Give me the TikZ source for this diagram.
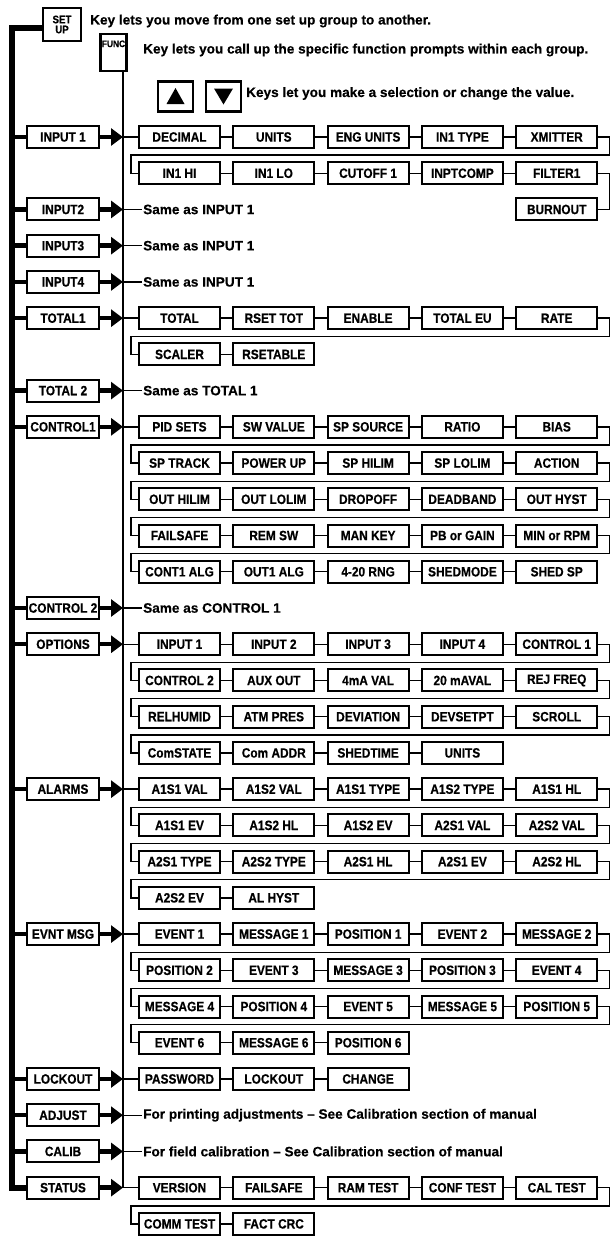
\documentclass[tikz,border=0pt]{standalone}
\usepackage{fontspec}
\setmainfont{Liberation Sans}
\newfontfamily\condfam{Liberation Sans}[FakeStretch=0.88,FakeBold=0.5,Ligatures=TeX]
\newfontfamily\heavyfam{Liberation Sans}[FakeBold=0.4,Ligatures=TeX]
\usetikzlibrary{calc,arrows.meta}
\newcommand{\boxfont}{\condfam\fontsize{13.5}{15}\selectfont\bfseries}
\newcommand{\plainfont}{\heavyfam\fontsize{13.6}{15}\selectfont\bfseries}
\newcommand{\rowy}[1]{\pgfmathsetmacro\ry{137+36.23*#1}}
% row of item boxes: #1 row index, #2 labels
\newcommand{\itemrow}[2]{%
  \rowy{#1}%
  \foreach \lbl [count=\i] in {#2} {
    \node[ibox] (r#1-\i) at ({179.5+94.3*(\i-1)},\ry) {\lbl};
  }
  \foreach \lbl [count=\i] in {#2} {
    \ifnum\i>1 \pgfmathtruncatemacro\j{\i-1}\draw[conn] (r#1-\j.east) -- (r#1-\i.west);\fi
  }
}
% wrap from last box of row #1 to first box of row #2
\newcommand{\wrapto}[2]{%
  \draw[conn] (r#1-5.east) -- ++(11,0) |- ($(r#2-1.west)+(-7,-18.1)$) |- (r#2-1.west);
}
% group box: #1 row index, #2 name, #3 label
\newcommand{\grp}[3]{%
  \rowy{#1}%
  \node[lbox] (#2) at (63,\ry) {#3};
  \coordinate (t#2) at (12,\ry);
  \coordinate (b#2) at (123,\ry);
  \draw[stub] (t#2) -- (#2.west);
  \draw[arr] (#2.east) -- (b#2);
}
% note text: #1 group name, #2 row index, #3 text
\newcommand{\same}[3]{%
  \rowy{#2}%
  \node[note] (s#1) at (142,\ry) {#3};
  \draw[conn] (b#1) -- (s#1.west);
}
\begin{document}
\begin{tikzpicture}[x=1pt,y=-1pt,
  lbox/.style={draw,line width=2pt,minimum width=72pt,minimum height=22pt,inner sep=0pt,font=\boxfont},
  ibox/.style={draw,line width=2pt,minimum width=81pt,minimum height=22pt,inner sep=0pt,font=\boxfont},
  conn/.style={line width=1.4pt},
  stub/.style={line width=4.5pt},
  bus/.style={line width=6pt},
  vline/.style={line width=1.6pt},
  arr/.style={line width=4.5pt,-{Triangle[length=12pt,width=17pt]}},
  note/.style={anchor=west,inner sep=1pt,font=\plainfont},
  keybox/.style={draw,line width=2.2pt,inner sep=0pt}
]
\fill[white] (0,0) rectangle (611,1237);
\useasboundingbox (0,0) rectangle (611,1237);

% --- key legend ---
\node[keybox,minimum width=38pt,minimum height=33pt,align=center,
      font=\condfam\fontsize{11}{10}\selectfont\bfseries] (setup) at (62,24.5) {SET\\UP};
\node[note] (k1) at (89,21) {Key lets you move from one set up group to another.};
\node[keybox,anchor=north,minimum width=26pt,inner xsep=1pt,inner ysep=3pt,text height=10pt,text depth=21pt,
      font=\condfam\fontsize{9.5}{10}\selectfont\bfseries] (func) at (113.5,33) {FUNC};
\node[note] (k2) at (142,50) {Key lets you call up the specific function prompts within each group.};
\node[keybox,minimum width=35pt,minimum height=30pt] (up) at (175.5,96.5) {};
\node[keybox,minimum width=35pt,minimum height=30pt] (down) at (223.5,96.5) {};
\fill ($(up)+(-9,7.5)$) -- ($(up)+(9,7.5)$) -- ($(up)+(0,-8.5)$) -- cycle;
\fill ($(down)+(-9.5,-8)$) -- ($(down)+(9.5,-8)$) -- ($(down)+(0,8)$) -- cycle;
\node[note] (k3) at (245,93.5) {Keys let you make a selection or change the value.};

% --- INPUT 1 ---
\grp{0}{in1}{INPUT 1}
\itemrow{0}{DECIMAL,UNITS,ENG UNITS,IN1 TYPE,XMITTER}
\itemrow{1}{IN1 HI,IN1 LO,CUTOFF 1,INPTCOMP,FILTER1}
\draw[conn] (bin1) -- (r0-1.west);
\wrapto{0}{1}
\rowy{2}
\node[ibox] (burn) at (556.7,\ry) {BURNOUT};
\draw[conn] (r1-5.east) -- ++(11,0) |- (burn.east);

\grp{2}{in2}{INPUT2}
\same{in2}{2}{Same as INPUT 1}
\grp{3}{in3}{INPUT3}
\same{in3}{3}{Same as INPUT 1}
\grp{4}{in4}{INPUT4}
\same{in4}{4}{Same as INPUT 1}

% --- TOTAL1 ---
\grp{5}{tot1}{TOTAL1}
\itemrow{5}{TOTAL,RSET TOT,ENABLE,TOTAL EU,RATE}
\itemrow{6}{SCALER,RSETABLE}
\draw[conn] (btot1) -- (r5-1.west);
\wrapto{5}{6}

\grp{7}{tot2}{TOTAL 2}
\same{tot2}{7}{Same as TOTAL 1}

% --- CONTROL1 ---
\grp{8}{ctl1}{CONTROL1}
\itemrow{8}{PID SETS,SW VALUE,SP SOURCE,RATIO,BIAS}
\itemrow{9}{SP TRACK,POWER UP,SP HILIM,SP LOLIM,ACTION}
\itemrow{10}{OUT HILIM,OUT LOLIM,DROPOFF,DEADBAND,OUT HYST}
\itemrow{11}{FAILSAFE,REM SW,MAN KEY,PB or GAIN,MIN or RPM}
\itemrow{12}{CONT1 ALG,OUT1 ALG,4-20 RNG,SHEDMODE,SHED SP}
\draw[conn] (bctl1) -- (r8-1.west);
\wrapto{8}{9}
\wrapto{9}{10}
\wrapto{10}{11}
\wrapto{11}{12}

\grp{13}{ctl2}{CONTROL 2}
\same{ctl2}{13}{Same as CONTROL 1}

% --- OPTIONS ---
\grp{14}{opt}{OPTIONS}
\itemrow{14}{INPUT 1,INPUT 2,INPUT 3,INPUT 4,CONTROL 1}
\itemrow{15}{CONTROL 2,AUX OUT,4mA VAL,20 mAVAL,REJ FREQ}
\itemrow{16}{RELHUMID,ATM PRES,DEVIATION,DEVSETPT,SCROLL}
\itemrow{17}{ComSTATE,Com ADDR,SHEDTIME,UNITS}
\draw[conn] (bopt) -- (r14-1.west);
\wrapto{14}{15}
\wrapto{15}{16}
\wrapto{16}{17}

% --- ALARMS ---
\grp{18}{alm}{ALARMS}
\itemrow{18}{A1S1 VAL,A1S2 VAL,A1S1 TYPE,A1S2 TYPE,A1S1 HL}
\itemrow{19}{A1S1 EV,A1S2 HL,A1S2 EV,A2S1 VAL,A2S2 VAL}
\itemrow{20}{A2S1 TYPE,A2S2 TYPE,A2S1 HL,A2S1 EV,A2S2 HL}
\itemrow{21}{A2S2 EV,AL HYST}
\draw[conn] (balm) -- (r18-1.west);
\wrapto{18}{19}
\wrapto{19}{20}
\wrapto{20}{21}

% --- EVNT MSG ---
\grp{22}{evt}{EVNT MSG}
\itemrow{22}{EVENT 1,MESSAGE 1,POSITION 1,EVENT 2,MESSAGE 2}
\itemrow{23}{POSITION 2,EVENT 3,MESSAGE 3,POSITION 3,EVENT 4}
\itemrow{24}{MESSAGE 4,POSITION 4,EVENT 5,MESSAGE 5,POSITION 5}
\itemrow{25}{EVENT 6,MESSAGE 6,POSITION 6}
\draw[conn] (bevt) -- (r22-1.west);
\wrapto{22}{23}
\wrapto{23}{24}
\wrapto{24}{25}

% --- LOCKOUT ---
\grp{26}{lck}{LOCKOUT}
\itemrow{26}{PASSWORD,LOCKOUT,CHANGE}
\draw[conn] (blck) -- (r26-1.west);

\grp{27}{adj}{ADJUST}
\same{adj}{27}{For printing adjustments – See Calibration section of manual}
\grp{28}{cal}{CALIB}
\same{cal}{28}{For field calibration – See Calibration section of manual}

% --- STATUS ---
\grp{29}{sts}{STATUS}
\itemrow{29}{VERSION,FAILSAFE,RAM TEST,CONF TEST,CAL TEST}
\itemrow{30}{COMM TEST,FACT CRC}
\draw[conn] (bsts) -- (r29-1.west);
\wrapto{29}{30}

% --- main lines ---
\draw[bus] ($(setup.west)+(0,3)$) -| (tsts) -- (sts.west);
\draw[vline] (func.south -| bsts) -- (bsts);
\end{tikzpicture}
\end{document}
